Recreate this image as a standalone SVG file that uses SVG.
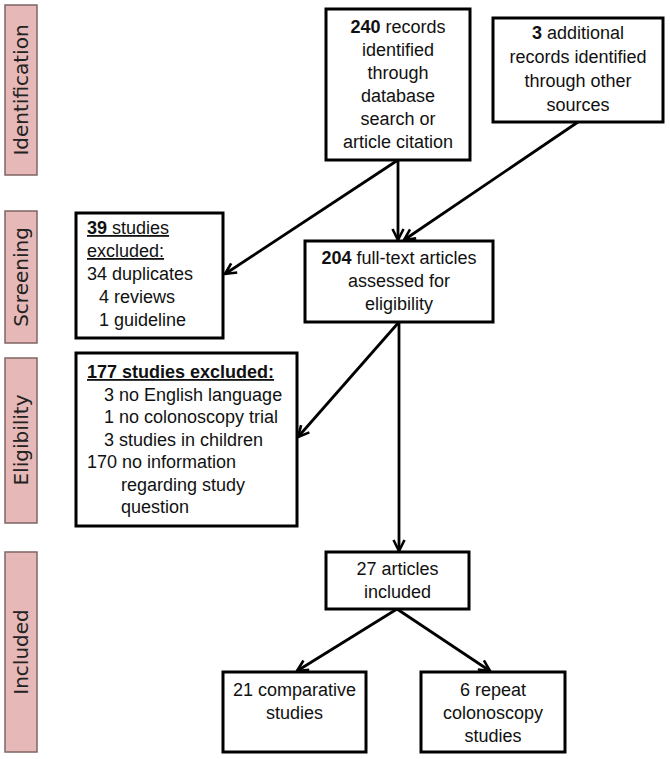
<svg xmlns="http://www.w3.org/2000/svg" width="670" height="759" viewBox="0 0 670 759">
<style>
.bg{fill:#ffffff}
.side{fill:#e6b9b8;stroke:#806464;stroke-width:1.5}
.sidet{font-family:"DejaVu Sans",sans-serif;font-size:20px;fill:#222;text-anchor:middle}
.box{fill:#ffffff;stroke:#000;stroke-width:3}
.t{font-family:"Liberation Sans",Arial,sans-serif;font-size:18px;fill:#111}
.c{text-anchor:middle}
.b{font-weight:bold}
.u{text-decoration:underline}
.conn line{stroke:#000;stroke-width:2.8;fill:none;marker-end:url(#arr)}
</style>
<defs>
<marker id="arr" markerUnits="userSpaceOnUse" viewBox="0 0 14 14" refX="12" refY="7" markerWidth="14" markerHeight="14" orient="auto">
<path d="M1,1.5 L12,7 L1,12.5" fill="none" stroke="#000" stroke-width="2.6"/>
</marker>
</defs>
<rect class="bg" x="0" y="0" width="670" height="759"/>

<g id="phase-identification">
<rect class="side" x="5" y="5" width="32" height="170"/>
<text class="sidet" transform="translate(28,90) rotate(-90)">Identification</text>
</g>
<g id="phase-screening">
<rect class="side" x="5" y="211" width="32" height="132"/>
<text class="sidet" transform="translate(28,277) rotate(-90)">Screening</text>
</g>
<g id="phase-eligibility">
<rect class="side" x="5" y="358" width="32" height="165"/>
<text class="sidet" transform="translate(28,440) rotate(-90)">Eligibility</text>
</g>
<g id="phase-included">
<rect class="side" x="5" y="552" width="32" height="200"/>
<text class="sidet" transform="translate(28,652) rotate(-90)">Included</text>
</g>

<g class="conn" id="connectors">
<line x1="398" y1="160" x2="398" y2="240"/>
<line x1="398" y1="160" x2="225" y2="274"/>
<line x1="578" y1="122" x2="404" y2="240"/>
<line x1="399" y1="322" x2="298" y2="437"/>
<line x1="399" y1="322" x2="399" y2="551"/>
<line x1="397" y1="609" x2="297" y2="671"/>
<line x1="397" y1="609" x2="490" y2="671"/>
</g>

<g id="n240">
<rect class="box" x="326" y="9" width="144" height="151"/>
<text class="t c" x="398" y="33"><tspan class="b">240</tspan> records</text>
<text class="t c" x="398" y="56">identified</text>
<text class="t c" x="398" y="79">through</text>
<text class="t c" x="398" y="102">database</text>
<text class="t c" x="398" y="125">search or</text>
<text class="t c" x="398" y="148">article citation</text>
</g>

<g id="n3">
<rect class="box" x="493" y="18" width="170" height="104"/>
<text class="t c" x="578" y="39"><tspan class="b">3</tspan> additional</text>
<text class="t c" x="578" y="63">records identified</text>
<text class="t c" x="578" y="87">through other</text>
<text class="t c" x="578" y="111">sources</text>
</g>

<g id="n39">
<rect class="box" x="76" y="213" width="147" height="125"/>
<text class="t u" x="87" y="234"><tspan class="b">39</tspan> studies</text>
<text class="t u" x="87" y="257">excluded:</text>
<text class="t" x="87" y="280">34 duplicates</text>
<text class="t" x="99" y="303">4 reviews</text>
<text class="t" x="99" y="326">1 guideline</text>
</g>

<g id="n204">
<rect class="box" x="305" y="241" width="188" height="81"/>
<text class="t c" x="399" y="264"><tspan class="b">204</tspan> full-text articles</text>
<text class="t c" x="399" y="287">assessed for</text>
<text class="t c" x="399" y="310">eligibility</text>
</g>

<g id="n177">
<rect class="box" x="76" y="353" width="221" height="173"/>
<text class="t b u" x="87" y="378">177 studies excluded:</text>
<text class="t" x="104" y="400.5">3 no English language</text>
<text class="t" x="104" y="423">1 no colonoscopy trial</text>
<text class="t" x="104" y="445.5">3 studies in children</text>
<text class="t" x="87" y="468">170 no information</text>
<text class="t" x="121" y="490.5">regarding study</text>
<text class="t" x="121" y="513">question</text>
</g>

<g id="n27">
<rect class="box" x="326" y="552" width="143" height="57"/>
<text class="t c" x="397.5" y="575">27 articles</text>
<text class="t c" x="397.5" y="598">included</text>
</g>

<g id="n21">
<rect class="box" x="223" y="672" width="143" height="80"/>
<text class="t c" x="294.5" y="696">21 comparative</text>
<text class="t c" x="294.5" y="719">studies</text>
</g>

<g id="n6">
<rect class="box" x="421" y="672" width="144" height="80"/>
<text class="t c" x="493" y="696">6 repeat</text>
<text class="t c" x="493" y="719">colonoscopy</text>
<text class="t c" x="493" y="742">studies</text>
</g>
</svg>
